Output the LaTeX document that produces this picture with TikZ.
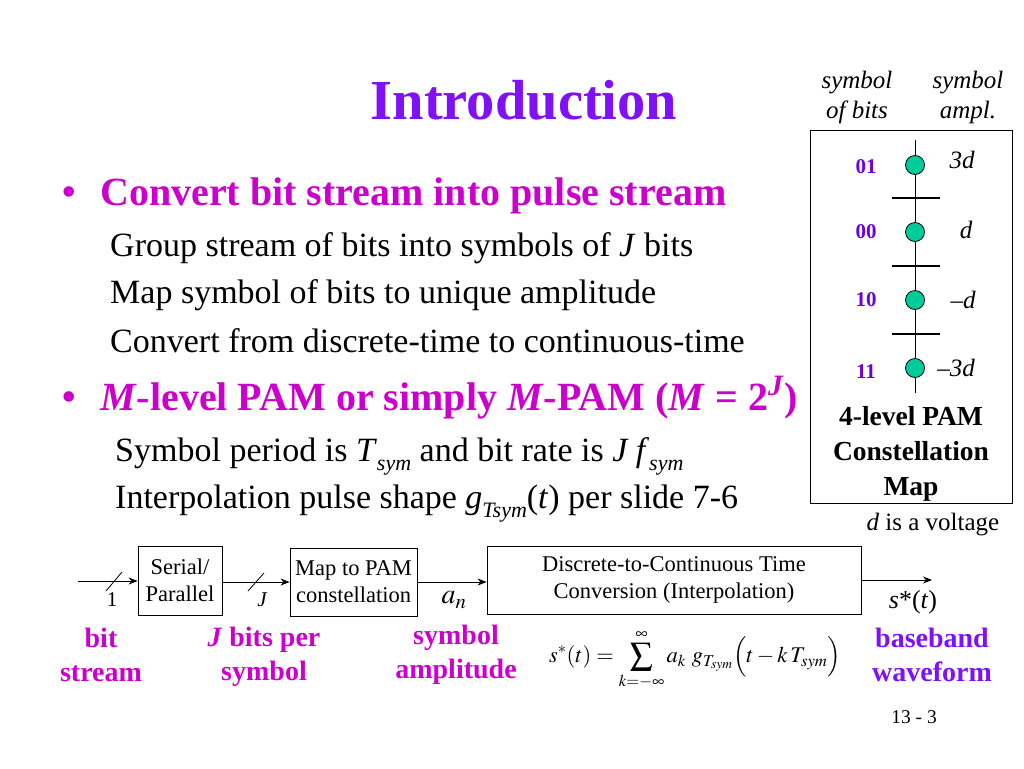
\documentclass[tikz,border=0pt]{standalone}
\usepackage{mathptmx}
\usepackage{fontspec}
\setmainfont{Liberation Serif}
\usetikzlibrary{arrows.meta}
\definecolor{titlecol}{RGB}{128,16,245}
\definecolor{magcol}{RGB}{204,0,204}
\definecolor{violcol}{RGB}{128,16,245}
\definecolor{bitcol}{RGB}{110,0,220}
\definecolor{dotgreen}{RGB}{0,204,153}
\tikzset{
  bodytxt/.style={anchor=base west, inner sep=0pt, font=\fontsize{34}{38}\selectfont},
  headtxt/.style={anchor=base west, inner sep=0pt, text=magcol, font=\fontsize{40}{44}\selectfont\bfseries},
  bullet/.style={inner sep=0pt, text=magcol, font=\fontsize{44}{46}\selectfont},
  hdr/.style={align=center, inner sep=0pt, font=\fontsize{25}{30}\selectfont\itshape},
  bitlab/.style={inner sep=0pt, text=bitcol, font=\fontsize{21}{22}\selectfont\bfseries},
  amplab/.style={inner sep=0pt, font=\fontsize{25}{26}\selectfont\itshape},
  dot/.style={circle, draw=black, fill=dotgreen, minimum size=19pt, inner sep=0pt, line width=0.8pt},
  blockbox/.style={draw=black, line width=0.8pt, align=center, inner sep=0pt, font=\fontsize{22.5}{27}\selectfont},
  sig/.style={line width=0.8pt, -{Stealth[length=9pt,width=7pt]}},
  lowlab/.style={align=center, inner sep=0pt, font=\fontsize{28}{34}\selectfont\bfseries},
}
\newcommand{\mysub}[1]{\raisebox{-0.28em}{\fontsize{22}{22}\selectfont\textit{#1}}}
\begin{document}
\begin{tikzpicture}[x=1pt,y=-1pt]
\useasboundingbox[fill=white] (0,0) rectangle (1024,768);
% title
\node[inner sep=0pt, text=titlecol, font=\fontsize{56.5}{60}\selectfont\bfseries] (title) at (524,100) {Introduction};
% bullets
\node[bullet] (b1) at (69,197) {•};
\node[headtxt] (h1) at (100,205) {Convert bit stream into pulse stream};
\node[bodytxt] (l1) at (110,256) {Group stream of bits into symbols of \textit{J} bits};
\node[bodytxt] (l2) at (110,303) {Map symbol of bits to unique amplitude};
\node[bodytxt] (l3) at (110,352) {Convert from discrete-time to continuous-time};
\node[bullet] (b2) at (69,402) {•};
\node[headtxt] (h2) at (100,410) {\textit{M}-level PAM or simply \textit{M}-PAM (\textit{M} = 2\textsuperscript{\textit{J}})};
\node[bodytxt] (l4) at (115,461) {Symbol period is \textit{T}\mysub{sym} and bit rate is \textit{J f}\mysub{sym}};
\node[bodytxt] (l5) at (115,508) {Interpolation pulse shape \textit{g}\mysub{Tsym}(\textit{t}) per slide 7-6};
% constellation panel
\node[hdr] (hd1) at (857,97) {symbol\\of bits};
\node[hdr] (hd2) at (968,97) {symbol\\ampl.};
\draw[line width=0.8pt] (810,130) rectangle (1012,503);
\coordinate (vtop) at (915,140);
\coordinate (vbot) at (915,393);
\draw[line width=1pt] (vtop) -- (vbot);
\foreach \yy in {198,266,334} \draw[line width=2.2pt] (892,\yy) -- (940,\yy);
\node[dot] (p1) at (915,165) {};
\node[dot] (p2) at (915,232) {};
\node[dot] (p3) at (915,300) {};
\node[dot] (p4) at (915,368) {};
\node[bitlab] (c1) at (866,167) {01};
\node[bitlab] (c2) at (866,232) {00};
\node[bitlab] (c3) at (866,300) {10};
\node[bitlab] (c4) at (866,372) {11};
\node[amplab] (a1) at (962,160) {3d};
\node[amplab] (a2) at (966,230) {d};
\node[amplab] (a3) at (963,300) {\textendash d};
\node[amplab] (a4) at (956,368) {\textendash 3d};
\node[align=center, inner sep=0pt, font=\fontsize{27.5}{35}\selectfont\bfseries] (cap) at (911,454) {4-level PAM\\Constellation\\Map};
\node[inner sep=0pt, font=\fontsize{25}{26}\selectfont] (volt) at (933,525) {\textit{d} is a voltage};
% block diagram
\coordinate (in) at (78,581);
\node[blockbox, minimum width=84pt, minimum height=69pt] (sp) at (180,580.5) {Serial/\\Parallel};
\node[blockbox, minimum width=127pt, minimum height=68pt] (map) at (353.5,582) {Map to PAM\\constellation};
\node[blockbox, minimum width=374pt, minimum height=68pt] (dc) at (674,580) {Discrete-to-Continuous Time\\Conversion (Interpolation)};
\coordinate (out) at (932,580);
\draw[sig] (in) -- (sp.west |- in);
\draw[sig] (sp.east |- map.west) -- (map.west);
\draw[sig] (map.east) -- (dc.west |- map.east);
\draw[sig] (dc.east) -- (out);
\draw[line width=0.8pt] (106,591) -- (122,572);
\draw[line width=0.8pt] (248,591) -- (264,573);
\node[inner sep=0pt, font=\fontsize{21}{22}\selectfont] (n1) at (112,600) {1};
\node[inner sep=0pt, font=\fontsize{21}{22}\selectfont\itshape] (nJ) at (262,600) {J};
\node[inner sep=0pt, font=\fontsize{28}{28}\selectfont] (an) at (454,600) {$a_n$};
\node[inner sep=0pt, font=\fontsize{26}{26}\selectfont] (st) at (913,602) {\textit{s}*(\textit{t})};
% lower labels
\node[lowlab, text=magcol] (lb1) at (101,655) {bit\\stream};
\node[lowlab, text=magcol] (lb2) at (264,657) {\textit{J} bits per\\symbol};
\node[lowlab, text=magcol] (lb3) at (456,655) {symbol\\amplitude};
\node[lowlab, text=violcol] (lb4) at (932,655) {baseband\\waveform};
\node[inner sep=0pt, font=\fontsize{22.5}{24}\selectfont] (eq) at (695,660) {$\displaystyle s^{*}(t) = \sum_{k=-\infty}^{\infty} a_k\ g_{T_{sym}}\Big(t - k\,T_{sym}\Big)$};
\node[inner sep=0pt, font=\fontsize{19.5}{20}\selectfont] (pg) at (914,717) {13 - 3};
\end{tikzpicture}
\end{document}
